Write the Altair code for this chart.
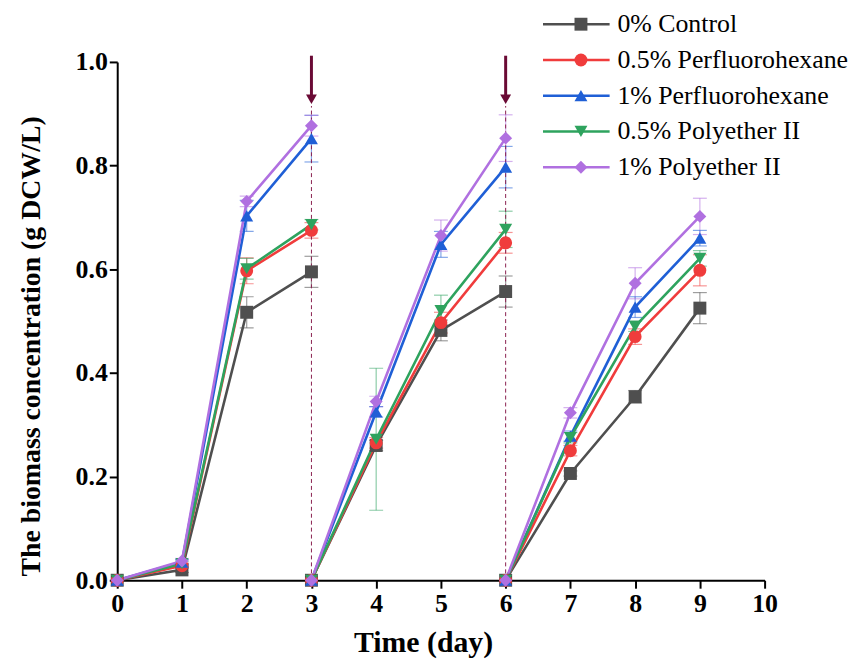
import altair as alt
import pandas as pd

# ---- data ----
days = [0, 1, 2, 3, 3, 4, 5, 6, 6, 7, 8, 9]
segment = [1, 1, 1, 1, 2, 2, 2, 2, 3, 3, 3, 3]

series_names = ["0% Control", "0.5% Perfluorohexane", "1% Perfluorohexane",
                "0.5% Polyether II", "1% Polyether II"]
control = [0, 0.020, 0.517, 0.595, 0, 0.260, 0.482, 0.557, 0, 0.206, 0.354, 0.525]
pfh_05 = [0, 0.028, 0.597, 0.675, 0, 0.265, 0.497, 0.651, 0, 0.250, 0.470, 0.598]
pfh_1 = [0, 0.035, 0.703, 0.852, 0, 0.325, 0.648, 0.797, 0, 0.278, 0.527, 0.660]
pe_05 = [0, 0.032, 0.601, 0.686, 0, 0.272, 0.520, 0.677, 0, 0.275, 0.490, 0.621]
pe_1 = [0, 0.037, 0.731, 0.877, 0, 0.345, 0.665, 0.853, 0, 0.323, 0.573, 0.702]

err_control = [0, 0.005, 0.030, 0.030, 0, 0.010, 0.020, 0.030, 0, 0.005, 0.012, 0.030]
err_pfh_05 = [0, 0.005, 0.025, 0.015, 0, 0.010, 0.020, 0.020, 0, 0.010, 0.015, 0.030]
err_pfh_1 = [0, 0.005, 0.030, 0.045, 0, 0.010, 0.025, 0.040, 0, 0.010, 0.020, 0.015]
err_pe_05 = [0, 0.005, 0.020, 0.010, 0, 0.137, 0.030, 0.035, 0, 0.010, 0.010, 0.015]
err_pe_1 = [0, 0.005, 0.010, 0.020, 0, 0.010, 0.030, 0.045, 0, 0.010, 0.030, 0.035]

colors = ["#4f4f4f", "#f03c3c", "#1f5fd6", "#2ea35e", "#b070e0"]
shapes = ["square", "circle", "triangle-up", "triangle-down", "diamond"]

reset_days = [3, 6]
arrow_top = 1.012
arrow_tip = 0.928
dash_top = 0.915

values = [control, pfh_05, pfh_1, pe_05, pe_1]
errors = [err_control, err_pfh_05, err_pfh_1, err_pe_05, err_pe_1]

rows = []
for si, name in enumerate(series_names):
    for d, s, v, e in zip(days, segment, values[si], errors[si]):
        rows.append({"day": d, "seg": s, "series": name, "idx": si,
                     "value": v, "lo": v - e, "hi": v + e, "has_err": e > 0})
df = pd.DataFrame(rows)

marks_df = pd.DataFrame({"day": reset_days,
                         "top": [arrow_top] * len(reset_days),
                         "tip": [arrow_tip] * len(reset_days),
                         "dash": [dash_top] * len(reset_days),
                         "zero": [0] * len(reset_days)})

FONT = "Liberation Serif"

xscale = alt.Scale(domain=[0, 10], nice=False, zero=False)
yscale = alt.Scale(domain=[0, 1], nice=False)

xaxis = alt.Axis(values=list(range(0, 11)), format="d", title="Time (day)",
                 grid=False, tickSize=8, tickWidth=2, domainWidth=2,
                 domainColor="black", tickColor="black", labelFlush=False,
                 labelFont=FONT, labelFontSize=26, labelFontWeight="bold",
                 labelColor="black", labelPadding=2,
                 titleFont=FONT, titleFontSize=30, titleFontWeight="bold",
                 titleColor="black", titleX=308, titleY=72,
                 titleBaseline="alphabetic")
yaxis = alt.Axis(values=[0, 0.2, 0.4, 0.6, 0.8, 1.0], format=".1f",
                 title="The biomass concentration (g DCW/L)",
                 grid=False, tickSize=8, tickWidth=2, domainWidth=2,
                 domainColor="black", tickColor="black", labelFlush=False,
                 labelFont=FONT, labelFontSize=26, labelFontWeight="bold",
                 labelColor="black", labelPadding=2,
                 titleFont=FONT, titleFontSize=28, titleFontWeight="bold",
                 titleColor="black", titleX=-78, titleY=286,
                 titleBaseline="alphabetic")

stroke_scale = alt.Scale(range=colors)
err_scale = alt.Scale(domain=series_names, range=colors)
fill_scale = alt.Scale(domain=list(range(len(series_names))), range=colors)
shape_scale = alt.Scale(domain=list(range(len(series_names))), range=shapes)

# legend geometry
LEG_LINE_X = 427          # left end of legend line, relative to plot origin
LEG_Y = -51
SYM_SIZE = 500            # custom path scaled by sqrt(size)/2
HALF = (SYM_SIZE ** 0.5) / 2
LINE_PATH = "M-3,0H3"      # line of length 6*HALF (~67 px)
LINE_HALF = 3 * HALF
PT = 13

base = alt.Chart(df)

errbars = base.transform_filter("datum.has_err").mark_rule(
    strokeWidth=1.2, opacity=0.55).encode(
    x=alt.X("day:Q", scale=xscale, axis=xaxis),
    y=alt.Y("lo:Q", scale=yscale, axis=yaxis),
    y2="hi:Q",
    color=alt.Color("series:N", scale=err_scale, legend=None),
)
caps_lo = base.transform_filter("datum.has_err").mark_tick(
    orient="horizontal", size=14, thickness=1.2, opacity=0.55).encode(
    x="day:Q", y="lo:Q",
    color=alt.Color("series:N", scale=err_scale, legend=None),
)
caps_hi = base.transform_filter("datum.has_err").mark_tick(
    orient="horizontal", size=14, thickness=1.2, opacity=0.55).encode(
    x="day:Q", y="hi:Q",
    color=alt.Color("series:N", scale=err_scale, legend=None),
)

dashes = alt.Chart(marks_df).mark_rule(
    strokeDash=[4, 3], strokeWidth=1, color="#8a2050").encode(
    x="day:Q", y="zero:Q", y2="dash:Q")

line_origin = LEG_LINE_X + LINE_HALF - HALF
lines = base.mark_line(strokeWidth=2.6).encode(
    x="day:Q", y="value:Q",
    stroke=alt.Stroke("series:N", sort=series_names, scale=stroke_scale,
                      legend=alt.Legend(title=None, orient="none",
                                        legendX=line_origin, legendY=LEG_Y,
                                        symbolType=LINE_PATH,
                                        symbolSize=SYM_SIZE,
                                        symbolStrokeWidth=2.6,
                                        symbolFillColor="transparent",
                                        labelFont=FONT, labelFontSize=26,
                                        labelColor="black", labelLimit=400,
                                        rowPadding=10, symbolOffset=0,
                                        labelOffset=LINE_HALF - HALF + 6,
                                        padding=0)),
    detail="seg:N",
    order="day:Q",
)

legend_pts = alt.Legend(title=None, orient="none",
                        legendX=LEG_LINE_X + LINE_HALF - PT / 2, legendY=LEG_Y,
                        symbolSize=PT * PT, labelFont=FONT,
                        labelFontSize=26, labelOpacity=0, labelLimit=400,
                        rowPadding=10, padding=0, symbolOffset=0,
                        symbolStrokeWidth=0, symbolOpacity=1)

points = base.mark_point(filled=True, size=170, opacity=1).encode(
    x="day:Q", y="value:Q",
    fill=alt.Fill("idx:N", scale=fill_scale, legend=legend_pts),
    shape=alt.Shape("idx:N", scale=shape_scale, legend=legend_pts),
)

arrows_shaft = alt.Chart(marks_df).mark_rule(
    strokeWidth=3, color="#6a0a35").encode(
    x="day:Q", y="top:Q", y2="tip:Q")
arrows_head = alt.Chart(marks_df).mark_point(
    shape="triangle-down", filled=True, size=120, color="#6a0a35",
    opacity=1).encode(x="day:Q", y="tip:Q")

chart = alt.layer(
    errbars, caps_lo, caps_hi, dashes, lines, points,
    arrows_shaft, arrows_head
).properties(
    width=652, height=522,
    background="white",
    autosize=alt.AutoSizeParams(type="none"),
    padding={"left": 110, "top": 52, "right": 86, "bottom": 78},
).configure_view(stroke=None).configure_legend(
    labelFont=FONT, labelFontSize=26, labelColor="black")

chart.save("out.html", embed_options={"renderer": "svg", "actions": False})
